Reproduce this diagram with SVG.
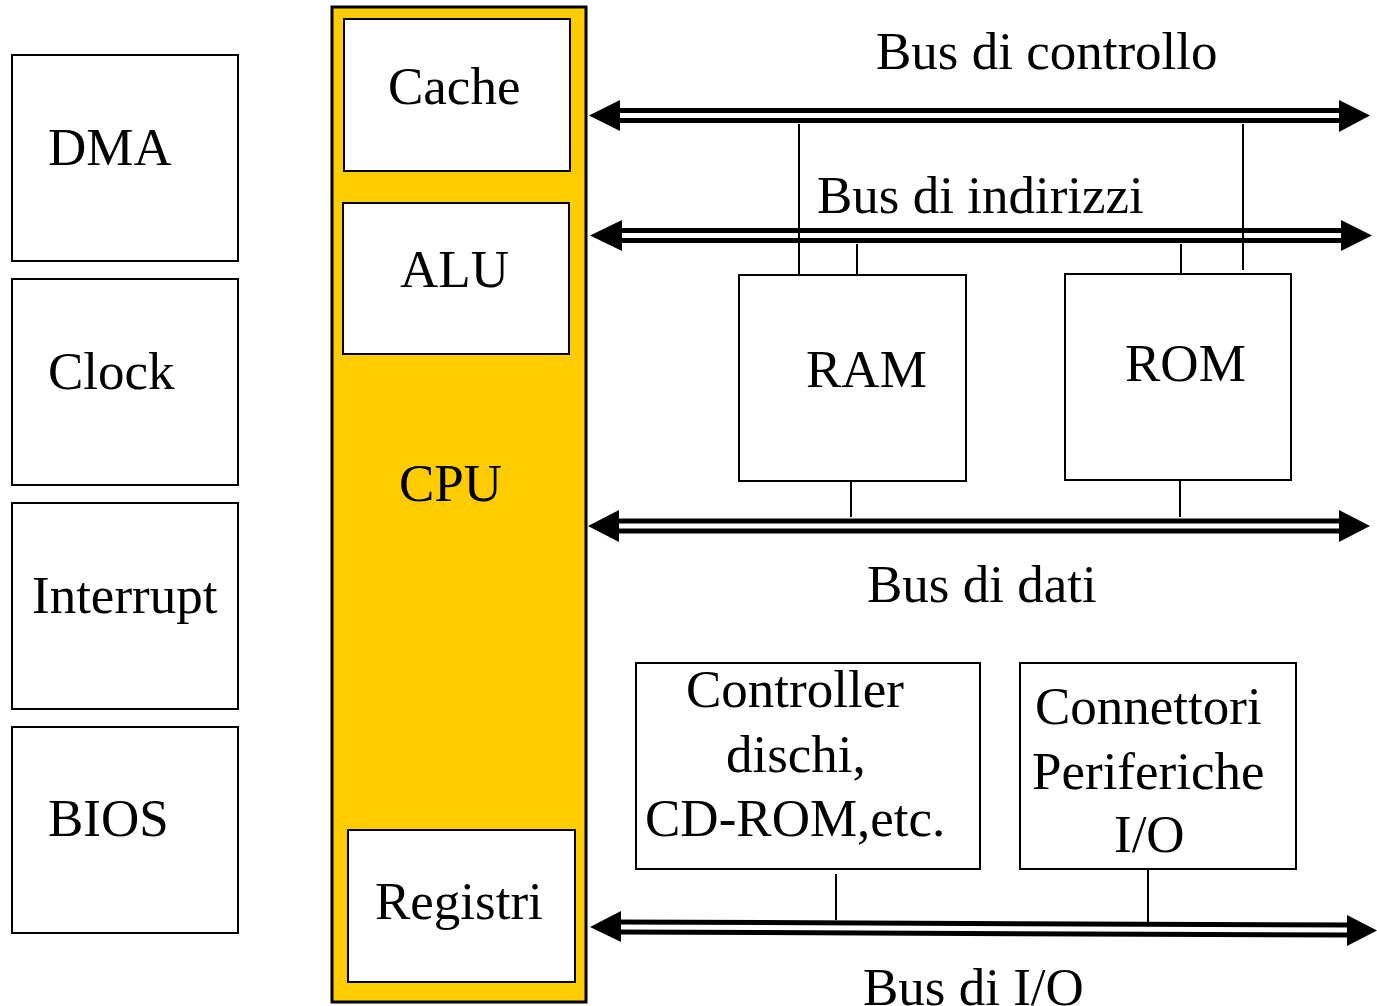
<svg xmlns="http://www.w3.org/2000/svg" width="1377" height="1006" viewBox="0 0 1377 1006">
  <style>
    .box { fill: #ffffff; stroke: #000000; stroke-width: 2; }
    .cpu { fill: #ffcc00; stroke: #000000; stroke-width: 3; }
    .lbl { font-family: "Liberation Serif", "Times New Roman", serif; font-size: 53px; fill: #000000; }
    .bus-outer { stroke: #000000; stroke-width: 15; fill: none; }
    .bus-inner { stroke: #ffffff; stroke-width: 5; fill: none; }
    .tap { stroke: #000000; stroke-width: 2; fill: none; }
    .head { fill: #000000; }
  </style>

  <!-- system units on the left -->
  <g id="dma">
    <rect class="box" x="12" y="55" width="226" height="206"/>
    <text class="lbl" x="48" y="165">DMA</text>
  </g>
  <g id="clock">
    <rect class="box" x="12" y="279" width="226" height="206"/>
    <text class="lbl" x="48" y="389">Clock</text>
  </g>
  <g id="interrupt">
    <rect class="box" x="12" y="503" width="226" height="206"/>
    <text class="lbl" x="32" y="613">Interrupt</text>
  </g>
  <g id="bios">
    <rect class="box" x="12" y="727" width="226" height="206"/>
    <text class="lbl" x="48" y="836">BIOS</text>
  </g>

  <!-- processor -->
  <g id="cpu">
    <rect class="cpu" x="332" y="7" width="254" height="995"/>
    <text class="lbl" x="399" y="501">CPU</text>
  </g>
  <g id="cache">
    <rect class="box" x="344" y="19" width="226" height="152"/>
    <text class="lbl" x="388" y="104">Cache</text>
  </g>
  <g id="alu">
    <rect class="box" x="343" y="203" width="226" height="151"/>
    <text class="lbl" x="400" y="287">ALU</text>
  </g>
  <g id="registri">
    <rect class="box" x="348" y="830" width="227" height="152"/>
    <text class="lbl" x="375" y="919">Registri</text>
  </g>

  <!-- memory -->
  <g id="ram">
    <rect class="box" x="739" y="275" width="227" height="206"/>
    <text class="lbl" x="806" y="387">RAM</text>
  </g>
  <g id="rom">
    <rect class="box" x="1065" y="274" width="226" height="206"/>
    <text class="lbl" x="1125" y="381">ROM</text>
  </g>

  <!-- peripherals -->
  <g id="controller">
    <rect class="box" x="636" y="663" width="344" height="206"/>
    <text class="lbl" x="686" y="707">Controller</text>
    <text class="lbl" x="726" y="772">dischi,</text>
    <text class="lbl" x="645" y="836">CD-ROM,etc.</text>
  </g>
  <g id="connettori">
    <rect class="box" x="1020" y="663" width="276" height="206"/>
    <text class="lbl" x="1035" y="724">Connettori</text>
    <text class="lbl" x="1032" y="789">Periferiche</text>
    <text class="lbl" x="1114" y="852">I/O</text>
  </g>

  <!-- buses and taps -->
  <g id="connectors">
    <!-- Bus di controllo -->
    <line class="bus-outer" x1="615" y1="115.5" x2="1342" y2="115.5"/>
    <line class="bus-inner" x1="615" y1="115.5" x2="1342" y2="115.5"/>
    <polygon class="head" points="589,115.5 620,100 620,131"/>
    <polygon class="head" points="1370,115.5 1339,100 1339,132"/>

    <!-- Bus di indirizzi -->
    <line class="bus-outer" x1="617" y1="235.5" x2="1344" y2="235.5"/>
    <line class="bus-inner" x1="617" y1="235.5" x2="1344" y2="235.5"/>
    <polygon class="head" points="590,235.5 622,220 622,251"/>
    <polygon class="head" points="1372,235.5 1341,220 1341,251"/>

    <!-- Bus di dati -->
    <line class="bus-outer" x1="614" y1="526" x2="1342" y2="526"/>
    <line class="bus-inner" x1="614" y1="526" x2="1342" y2="526"/>
    <polygon class="head" points="588,526 619,510 619,542"/>
    <polygon class="head" points="1370,526 1339,510 1339,542"/>

    <!-- Bus di I/O -->
    <line class="bus-outer" x1="616" y1="927" x2="1350" y2="930"/>
    <line class="bus-inner" x1="616" y1="927" x2="1350" y2="930"/>
    <polygon class="head" points="590,927 621,911 621,942"/>
    <polygon class="head" points="1377,930.5 1347,915 1347,946"/>

    <!-- taps -->
    <line class="tap" x1="799" y1="124" x2="799" y2="275"/>
    <line class="tap" x1="857" y1="244" x2="857" y2="275"/>
    <line class="tap" x1="1181" y1="244" x2="1181" y2="274"/>
    <line class="tap" x1="1243" y1="124" x2="1243" y2="270"/>
    <line class="tap" x1="851" y1="481" x2="851" y2="517"/>
    <line class="tap" x1="1180" y1="480" x2="1180" y2="517"/>
    <line class="tap" x1="836" y1="874" x2="836" y2="920"/>
    <line class="tap" x1="1148" y1="869" x2="1148" y2="922"/>
  </g>

  <!-- bus labels -->
  <text class="lbl" x="876" y="69">Bus di controllo</text>
  <text class="lbl" x="817" y="213">Bus di indirizzi</text>
  <text class="lbl" x="867" y="602">Bus di dati</text>
  <text class="lbl" x="863" y="1005">Bus di I/O</text>
</svg>
